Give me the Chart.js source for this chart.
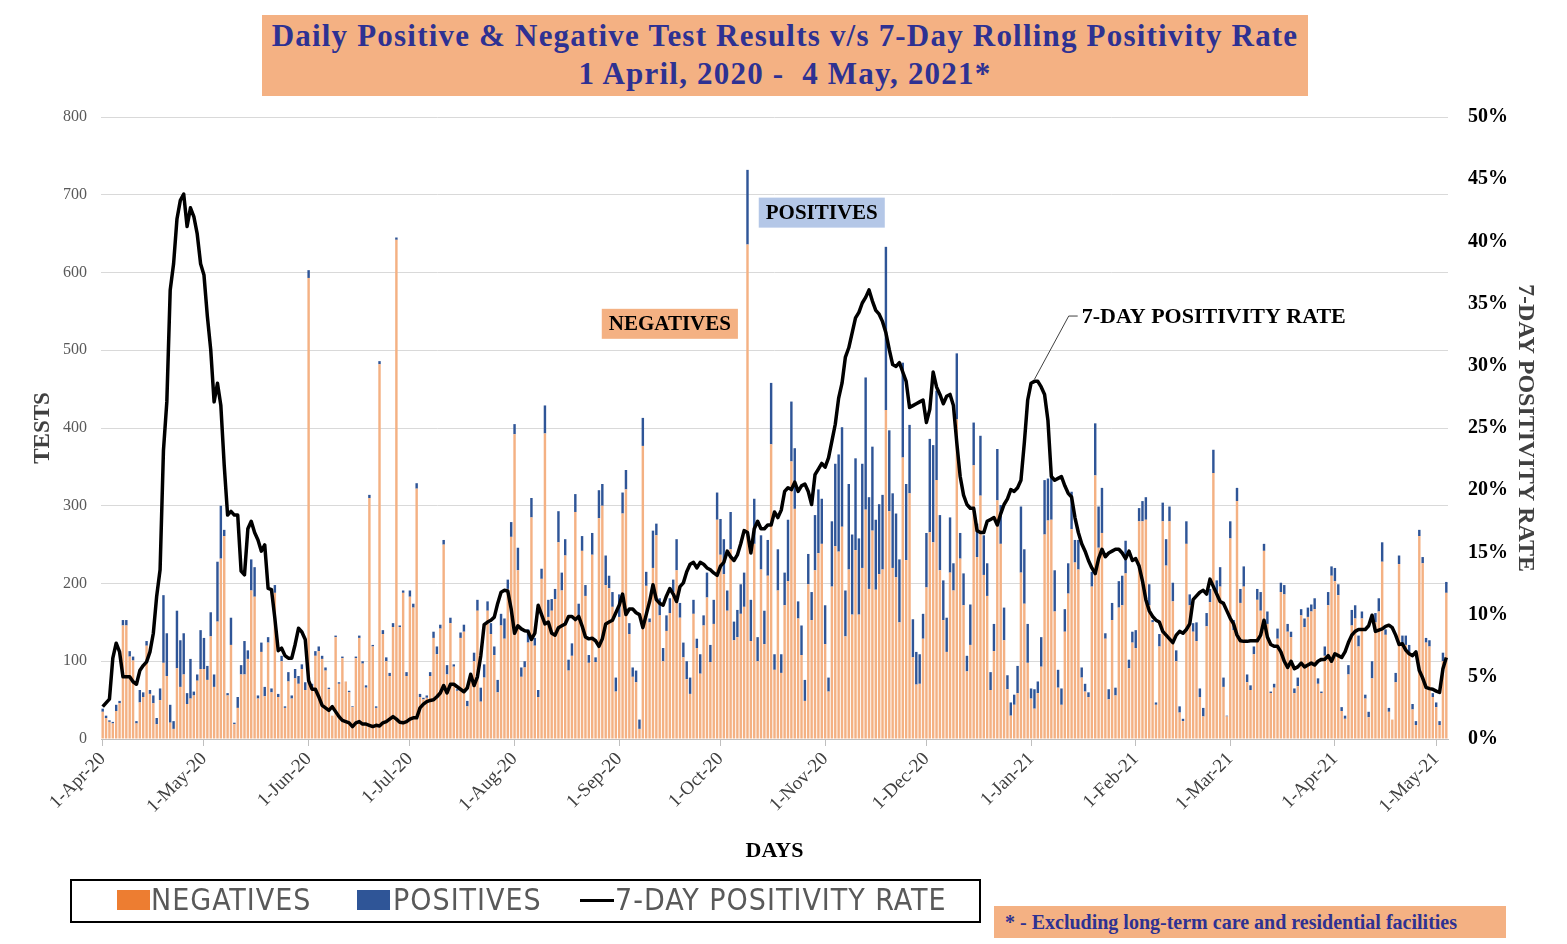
<!DOCTYPE html>
<html>
<head>
<meta charset="utf-8">
<script src="https://cdn.jsdelivr.net/npm/chart.js@4.4.0/dist/chart.umd.min.js"></script>
<style>
  html, body { margin: 0; padding: 0; background: #fff; }
  #wrap { position: relative; width: 1567px; height: 944px; overflow: hidden; }
  #trend-chart { position: absolute; left: 0; top: 0; }
  .title-box {
    position: absolute; left: 262px; top: 15px; width: 1046px; height: 81px;
    background: #f4b183; color: #2e3192; text-align: center;
    font: bold 31px "Liberation Serif", serif; line-height: 38px; letter-spacing: 1.2px;
    padding-top: 2px; box-sizing: border-box; white-space: nowrap;
  }
  .legend-box {
    position: absolute; left: 70px; top: 879px; width: 911px; height: 44px;
    border: 2px solid #000; box-sizing: border-box;
  }
  .legend-text {
    position: absolute; top: 4px; font-family: "Liberation Sans Narrow", "DejaVu Sans Condensed", sans-serif;
    font-size: 30px; line-height: 30px; color: #595959; white-space: nowrap; letter-spacing: 1px;
  }
  .swatch { position: absolute; }
  .footnote {
    position: absolute; left: 994px; top: 906px; width: 512px; height: 32px;
    background: #f4b183; color: #2e3192; font: bold 20px "Liberation Serif", serif;
    line-height: 33px; padding-left: 11px; box-sizing: border-box; white-space: nowrap;
  }
</style>
</head>
<body>
<div id="wrap">
  <canvas id="trend-chart" width="1567" height="944"></canvas>
  <div class="title-box">Daily Positive &amp; Negative Test Results v/s 7-Day Rolling Positivity Rate<br>1 April, 2020 -&nbsp; 4 May, 2021*</div>
  <div class="legend-box">
    <div class="swatch" style="left:45px;top:9px;width:33px;height:20px;background:#ed7d31;"></div>
    <div class="legend-text" style="left:79px;">NEGATIVES</div>
    <div class="swatch" style="left:285px;top:9px;width:33px;height:20px;background:#2f5597;"></div>
    <div class="legend-text" style="left:321px;">POSITIVES</div>
    <div class="swatch" style="left:508px;top:18px;width:34px;height:3px;background:#000;"></div>
    <div class="legend-text" style="left:543px;">7-DAY POSITIVITY RATE</div>
  </div>
  <div class="footnote">* - Excluding long-term care and residential facilities</div>
</div>
<script>
// Daily tests from 1-Apr-20 to 4-May-21
const negatives = [
  35,27,22,20,36,46,146,146,106,101,20,47,54,120,58,46,19,50,98,81,
  21,13,91,67,83,45,52,56,75,90,90,76,132,67,151,232,261,56,121,19,
  40,83,83,103,191,183,52,112,55,124,60,188,54,100,40,74,52,78,71,90,
  63,593,65,107,113,103,88,64,30,131,71,104,74,60,41,104,130,97,66,310,
  119,40,482,135,100,81,144,642,144,188,81,183,169,322,54,51,53,81,130,109,
  142,250,83,149,93,62,130,138,42,79,100,165,48,79,165,135,108,60,146,129,
  193,
  260,392,217,80,92,124,285,120,54,206,393,157,165,180,253,191,236,88,107,292,
  157,242,184,98,237,99,284,300,198,194,170,61,157,290,321,135,80,73,13,377,
  197,150,220,262,159,100,139,162,189,217,156,105,77,58,161,117,84,146,182,99,
  148,282,237,212,165,244,127,131,161,170,636,126,251,100,218,122,210,379,89,191,
  85,172,203,357,296,155,108,49,199,153,217,239,251,122,61,196,248,241,273,132,
  218,160,243,160,220,295,193,268,192,212,218,423,293,220,208,150,362,230,316,105,
  70,71,129,195,266,253,333,217,153,112,214,191,411,232,172,87,121,352,234,313,
  211,184,63,113,307,251,127,64,30,44,59,214,174,98,52,39,59,93,263,281,
  282,164,66,44,138,187,270,227,218,79,61,54,196,339,246,265,129,51,153,56,
  169,172,213,91,124,117,280,280,282,172,150,44,119,280,223,280,177,100,34,23,
  251,
  172,138,126,54,29,145,176,342,189,196,67,29,258,140,306,175,196,73,63,109,
  179,165,242,148,59,66,129,189,186,138,131,59,68,159,144,157,164,167,71,59,
  107,172,210,203,185,36,26,83,146,155,119,155,52,28,78,150,164,228,134,35,
  25,73,225,121,121,112,38,18,261,226,124,119,54,41,18,100,188
];

const positives = [
  4,3,2,2,8,3,7,7,7,5,3,16,6,6,5,10,8,15,87,55,
  23,10,74,60,53,14,51,5,8,50,40,18,31,16,77,68,8,3,35,2,
  14,12,43,11,40,38,4,12,12,7,5,10,4,7,2,12,4,12,10,6,
  10,10,6,6,6,4,4,2,0,2,2,2,0,2,1,2,3,3,3,4,
  2,2,4,5,5,4,5,3,2,3,5,8,5,7,4,2,3,5,8,10,
  5,6,12,7,3,2,7,9,7,5,11,14,18,17,12,14,11,16,15,26,
  12,
  19,13,29,12,8,17,25,10,9,13,36,22,15,13,40,23,21,14,16,23,
  17,19,14,10,28,6,36,28,38,16,19,18,29,27,25,14,12,15,12,36,
  18,5,48,15,22,17,20,19,16,40,19,19,23,21,18,12,25,13,32,22,
  31,35,46,45,26,48,24,35,38,44,96,53,58,31,44,43,46,79,20,53,
  24,42,79,77,78,22,38,27,39,36,71,82,58,50,18,84,106,125,128,59,
  110,103,118,98,134,170,118,108,90,90,96,210,104,96,82,81,122,98,88,49,
  42,38,32,70,120,125,115,71,51,44,71,35,85,33,41,20,52,55,43,77,
  51,42,23,35,66,50,42,18,17,13,35,85,70,50,13,25,15,38,70,54,
  58,53,23,21,29,39,48,29,38,13,10,6,19,67,53,58,7,13,22,10,
  34,38,42,11,14,23,17,26,29,27,3,3,16,24,34,19,24,14,8,3,
  29,
  14,11,24,11,11,17,17,30,15,25,12,1,22,13,17,18,26,10,6,10,
  14,24,9,16,2,5,13,12,12,10,7,6,11,8,11,12,9,14,7,2,
  12,17,12,17,14,5,4,12,20,17,14,9,5,7,22,12,17,25,7,5,
  0,12,11,12,12,9,7,5,8,8,6,8,5,6,5,11,14
];

// 7-day rolling positivity rate, in percent
const positivityRate = [
  2.6,2.9,3.2,6.5,7.7,7.0,5.0,5.0,5.0,4.6,4.4,5.5,5.9,6.2,7.0,8.5,11.5,13.6,23.2,27.1,
  36.1,38.2,41.8,43.3,43.8,41.2,42.7,42.0,40.6,38.2,37.3,34.0,31.3,27.1,28.6,26.8,22.0,18.0,18.3,18.0,
  18.0,13.5,13.2,16.9,17.5,16.6,16.0,15.1,15.6,12.1,12.0,9.7,7.1,7.3,6.7,6.5,6.5,7.6,8.9,8.6,
  8.0,4.7,4.0,4.0,3.4,2.7,2.5,2.3,2.6,2.2,1.8,1.5,1.4,1.3,1.0,1.3,1.4,1.2,1.2,1.1,
  1.0,1.1,1.05,1.3,1.4,1.6,1.8,1.6,1.35,1.3,1.4,1.6,1.7,1.7,2.5,2.8,3.0,3.1,3.15,3.4,
  3.7,4.3,3.7,4.4,4.4,4.2,4.0,3.8,4.1,5.2,4.3,5.0,6.7,9.2,9.4,9.55,9.8,10.9,11.8,11.95,
  11.9,
  10.45,8.5,9.1,8.85,8.7,8.65,8.0,8.5,10.75,10.0,9.25,9.4,8.5,8.35,8.95,9.1,9.25,9.85,9.85,9.6,
  9.85,9.1,8.2,8.05,8.1,7.9,7.45,8.05,9.25,9.4,9.55,10.15,10.75,11.65,10.0,10.45,10.45,10.15,10.0,8.95,
  10.0,11.05,12.4,11.2,10.9,10.75,11.5,12.1,11.65,11.05,12.25,12.55,13.45,14.05,14.2,13.75,14.2,14.05,13.75,13.6,
  13.35,13.15,13.9,14.2,15.1,14.65,14.35,14.8,15.7,16.75,16.6,14.95,16.9,17.5,16.9,16.9,17.2,17.2,18.25,17.8,
  18.4,19.9,20.2,20.05,20.65,19.9,20.35,20.5,19.9,18.85,21.25,21.7,22.15,21.85,22.6,23.95,25.3,27.4,28.6,30.7,
  31.45,32.65,33.85,34.3,35.05,35.5,36.1,35.2,34.45,34.15,33.55,32.65,31.3,30.1,29.95,30.25,29.5,28.75,26.65,26.8,
  26.95,27.1,27.25,25.45,26.5,29.5,28.3,27.7,26.95,27.55,27.7,26.8,23.8,21.1,19.6,18.85,18.55,18.55,16.75,16.6,
  16.6,17.5,17.65,17.8,17.2,18.1,18.85,19.3,20.05,19.9,20.2,20.8,23.8,27.25,28.6,28.75,28.75,28.3,27.7,25.6,
  21.1,20.8,20.95,21.1,20.35,19.75,19.45,17.8,16.6,15.7,15.1,14.35,13.75,13.3,14.5,15.25,14.65,14.95,15.1,15.25,
  15.25,14.95,14.5,15.1,14.35,14.5,13.9,12.7,11.2,10.3,9.85,9.55,9.4,8.65,8.35,8.05,7.75,8.35,8.65,8.5,
  8.8,
  9.25,11.2,11.5,11.8,11.95,11.65,12.85,12.25,11.65,11.05,10.9,10.3,9.7,9.25,8.35,7.9,7.85,7.85,7.9,7.9,
  7.9,8.35,9.55,8.2,7.6,7.45,7.45,7.0,6.25,5.75,6.25,5.65,5.8,6.1,5.8,5.95,6.1,5.95,6.25,6.4,
  6.4,6.7,6.25,6.85,6.7,6.55,7.0,7.75,8.35,8.65,8.8,8.8,8.8,9.1,9.95,8.65,8.75,8.85,9.05,9.15,
  8.95,8.35,7.6,7.65,7.15,6.85,6.7,7.0,5.5,4.9,4.15,4.05,4.0,3.85,3.75,5.65,6.55
];

const monthTicks = ['1-Apr-20','1-May-20','1-Jun-20','1-Jul-20','1-Aug-20','1-Sep-20','1-Oct-20',
  '1-Nov-20','1-Dec-20','1-Jan-21','1-Feb-21','1-Mar-21','1-Apr-21','1-May-21'];

// one label per day, same format as the ticks
const MONTHS = ['Jan','Feb','Mar','Apr','May','Jun','Jul','Aug','Sep','Oct','Nov','Dec'];
const days = [];
for (let i = 0; i < negatives.length; i++) {
  const d = new Date(2020, 3, 1 + i);
  days.push(d.getDate() + '-' + MONTHS[d.getMonth()] + '-' + String(d.getFullYear()).slice(2));
}
const isMonthTick = (i) => monthTicks.includes(days[i]);

const SERIF = '"Liberation Serif", "Times New Roman", serif';

// where the in-chart labels sit (day index / tests value)
const notes = {
  negatives: { day: 168, tests: 534 },
  positives: { day: 213, tests: 677 },
  rate: { day: 290, tests: 544, from: 265, to: 285 }
};

function drawTag(ctx, text, cx, cy, fill) {
  const w = ctx.measureText(text).width + 14;
  ctx.fillStyle = fill;
  ctx.fillRect(cx - w / 2, cy - 15, w, 30);
  ctx.fillStyle = '#000';
  ctx.textAlign = 'center';
  ctx.textBaseline = 'middle';
  ctx.fillText(text, cx, cy + 1);
}

const annotationPlugin = {
  id: 'chartNotes',
  afterDatasetsDraw(chart) {
    const { ctx } = chart;
    const { x, y, y1 } = chart.scales;
    ctx.save();
    ctx.font = 'bold 21px ' + SERIF;
    drawTag(ctx, 'NEGATIVES', x.getPixelForValue(notes.negatives.day), y.getPixelForValue(notes.negatives.tests), '#f4b183');
    drawTag(ctx, 'POSITIVES', x.getPixelForValue(notes.positives.day), y.getPixelForValue(notes.positives.tests), '#b4c7e7');

    // leader line to the January peak of the rate
    let peak = notes.rate.from;
    for (let i = notes.rate.from; i <= notes.rate.to; i++) {
      if (positivityRate[i] > positivityRate[peak]) peak = i;
    }
    const px = x.getPixelForValue(peak);
    const py = y1.getPixelForValue(positivityRate[peak]);
    const tx = x.getPixelForValue(notes.rate.day);
    const ty = y.getPixelForValue(notes.rate.tests);
    ctx.strokeStyle = '#404040';
    ctx.lineWidth = 1;
    ctx.beginPath();
    ctx.moveTo(tx - 4, ty);
    ctx.lineTo(tx - 13, ty);
    ctx.lineTo(px, py - 2);
    ctx.stroke();
    ctx.font = 'bold 22px ' + SERIF;
    ctx.fillStyle = '#000';
    ctx.textAlign = 'left';
    ctx.textBaseline = 'middle';
    ctx.fillText('7-DAY POSITIVITY RATE', tx, ty + 1);
    ctx.restore();
  }
};

const ctx = document.getElementById('trend-chart').getContext('2d');

const trendChart = new Chart(ctx, {
  type: 'bar',
  data: {
    labels: days,
    datasets: [
      {
        type: 'line',
        label: '7-DAY POSITIVITY RATE',
        data: positivityRate,
        yAxisID: 'y1',
        borderColor: '#000',
        borderWidth: 3.5,
        pointRadius: 0,
        tension: 0,
        borderJoinStyle: 'round',
        order: 0
      },
      {
        label: 'NEGATIVES',
        data: negatives,
        backgroundColor: '#f4b183',
        stack: 'tests',
        barPercentage: 0.72,
        categoryPercentage: 1,
        order: 1
      },
      {
        label: 'POSITIVES',
        data: positives,
        backgroundColor: '#2f5597',
        stack: 'tests',
        barPercentage: 0.72,
        categoryPercentage: 1,
        order: 2
      }
    ]
  },
  options: {
    responsive: false,
    animation: false,
    layout: { padding: { top: 117, left: 25, right: 23, bottom: 79 } },
    plugins: {
      legend: { display: false },
      tooltip: { enabled: false }
    },
    scales: {
      x: {
        stacked: true,
        offset: true,
        grid: {
          offset: false,
          drawOnChartArea: false,
          tickLength: 7,
          color: (c) => isMonthTick(c.index) ? '#bfbfbf' : 'rgba(0,0,0,0)',
          tickColor: (c) => isMonthTick(c.index) ? '#bfbfbf' : 'rgba(0,0,0,0)'
        },
        border: { color: '#bfbfbf' },
        ticks: {
          autoSkip: false,
          minRotation: 45,
          maxRotation: 45,
          padding: 2,
          color: '#404040',
          font: { family: SERIF, size: 19 },
          callback: (v, i) => isMonthTick(i) ? days[i] : ''
        },
        title: {
          display: true,
          text: 'DAYS',
          color: '#000',
          font: { family: SERIF, size: 22, weight: 'bold' },
          padding: { top: 4, bottom: 0 }
        },
        afterFit: (s) => { s.height = 126; }
      },
      y: {
        stacked: true,
        min: 0,
        max: 800,
        grid: { color: '#d9d9d9', drawTicks: false },
        border: { display: false },
        ticks: {
          stepSize: 100,
          padding: 14,
          color: '#595959',
          font: { family: SERIF, size: 16 }
        },
        title: {
          display: true,
          text: 'TESTS',
          color: '#404040',
          font: { family: SERIF, size: 23, weight: 'bold' },
          padding: { top: 4, bottom: 0 }
        },
        afterFit: (s) => { s.width = 76; }
      },
      y1: {
        position: 'right',
        min: 0,
        max: 50,
        grid: { drawOnChartArea: false, drawTicks: false },
        border: { display: false },
        ticks: {
          stepSize: 5,
          padding: 20,
          color: '#000',
          font: { family: SERIF, size: 20, weight: 'bold' },
          callback: (v) => v + '%'
        },
        title: {
          display: true,
          text: '7-DAY POSITIVITY RATE',
          color: '#404040',
          font: { family: SERIF, size: 24, weight: 'bold' },
          padding: { top: 4, bottom: 0 }
        },
        afterFit: (s) => { s.width = 96; }
      }
    }
  },
  plugins: [annotationPlugin]
});
</script>
</body>
</html>
